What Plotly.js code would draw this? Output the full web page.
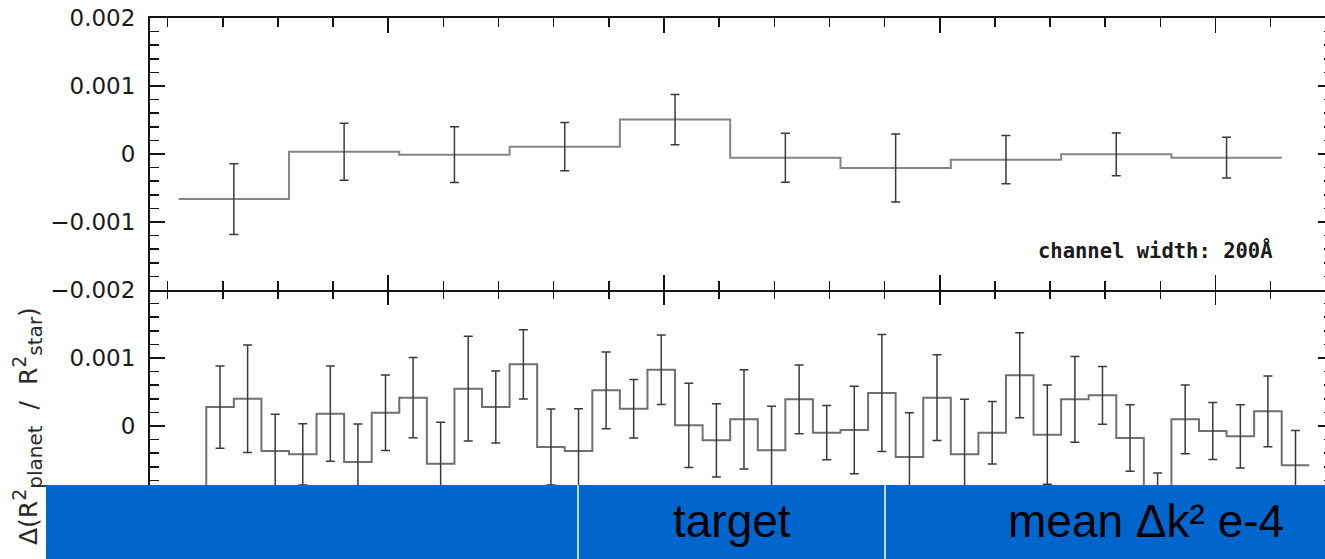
<!DOCTYPE html>
<html>
<head>
<meta charset="utf-8">
<script src="https://cdn.plot.ly/plotly-3.0.1.min.js"></script>
<style>
html,body{margin:0;padding:0;overflow:hidden;background:#fff;}
#chart{width:1340px;height:570px;}
</style>
</head>
<body>
<div id="chart"></div>
<script>
// ---------------- data ----------------
// upper panel: 200 Å channels (bin centres, Å)
var topCenters = [5720, 5920, 6120, 6320, 6520, 6720, 6920, 7120, 7320, 7520];
var topValues  = [-0.000663, 0.000034, -0.000010, 0.000108, 0.000506, -0.000054, -0.000206, -0.000084, -0.000005, -0.000054];
var topErrors  = [0.00052, 0.00042, 0.00041, 0.000355, 0.00037, 0.00036, 0.00050, 0.000355, 0.000315, 0.00030];

// lower panel: 50 Å channels (bin centres, Å)
var botCenters = [5645, 5695, 5745, 5795, 5845, 5895, 5945, 5995, 6045, 6095, 6145,
                  6195, 6245, 6295, 6345, 6395, 6445, 6495, 6545, 6595, 6645,
                  6695, 6745, 6795, 6845, 6895, 6945, 6995, 7045, 7095, 7145,
                  7195, 7245, 7295, 7345, 7395, 7445, 7495, 7545, 7595, 7645];
var botValues  = [-0.00145, 0.000279, 0.000402, -0.000368, -0.000417, 0.000181, -0.000529, 0.000196, 0.000417, -0.000554,
                  0.000549, 0.000279, 0.000907, -0.000309, -0.000368, 0.000525, 0.000255, 0.000828, 0.000010, -0.000211,
                  0.000098, -0.000358, 0.000392, -0.000098, -0.000059, 0.000485, -0.000456, 0.000417, -0.000417, -0.000098,
                  0.000745, -0.000127, 0.000392, 0.000451, -0.000176, -0.00125, 0.000098, -0.000074, -0.000152, 0.000216, -0.000578];
var botErrors  = [0.00050, 0.000605, 0.00079, 0.00054, 0.00045, 0.00070, 0.00056, 0.000555, 0.00059, 0.00061,
                  0.00077, 0.00053, 0.00051, 0.00056, 0.00062, 0.000565, 0.00043, 0.00051, 0.00062, 0.00054,
                  0.00073, 0.00065, 0.000505, 0.00040, 0.000645, 0.00086, 0.00065, 0.00063, 0.00081, 0.00046,
                  0.000625, 0.00073, 0.00063, 0.000425, 0.00049, 0.00056, 0.000505, 0.00042, 0.000465, 0.00052, 0.00051];

var topYTicks = [-0.002, -0.001, 0, 0.001, 0.002];
var botYTicks = [-0.001, 0, 0.001];
var noteText = 'channel width: 200\u00c5';
var yTitle = '\u0394(R<sup><span style="font-size:19px">2</span></sup><sub><span style="font-size:20px">planet</span></sub>\u00a0\u00a0/\u00a0\u00a0R<sup><span style="font-size:19px">2</span></sup><sub><span style="font-size:20px">star</span></sub>)';
var headerCells = ['', 'target', 'mean \u0394k\u00b2 e-4'];

// ---------------- helpers ----------------
function stepXY(centers, values) {
  var half = (centers[1] - centers[0]) / 2;
  var xs = centers.map(function (c) { return c - half; });
  xs.push(centers[centers.length - 1] + half);
  var ys = values.slice();
  ys.push(values[values.length - 1]);
  return {x: xs, y: ys};
}
var W = 1340, H = 570, ML = 150, MR = 7, MT = 18, MB = 8;
var PW = W - ML - MR, PH = H - MT - MB;
function px(x) { return (x - ML) / PW; }
function py(y) { return (H - MB - y) / PH; }

var stepColor = '#858585';
var errColor = '#3a3a3a';

var tStep = stepXY(topCenters, topValues);
var bStep = stepXY(botCenters, botValues);

var traces = [
  {x: tStep.x, y: tStep.y, xaxis: 'x2', yaxis: 'y2', mode: 'lines',
   line: {shape: 'hv', color: stepColor, width: 2}, hoverinfo: 'skip'},
  {x: topCenters, y: topValues, xaxis: 'x2', yaxis: 'y2', mode: 'markers',
   marker: {size: 1, color: 'rgba(0,0,0,0)'},
   error_y: {type: 'data', array: topErrors, visible: true, color: errColor, thickness: 1.5, width: 4.5}},
  {x: bStep.x, y: bStep.y, xaxis: 'x', yaxis: 'y', mode: 'lines',
   line: {shape: 'hv', color: '#707070', width: 2}, hoverinfo: 'skip'},
  {x: botCenters, y: botValues, xaxis: 'x', yaxis: 'y', mode: 'markers',
   marker: {size: 1, color: 'rgba(0,0,0,0)'},
   error_y: {type: 'data', array: botErrors, visible: true, color: errColor, thickness: 1.5, width: 4.5}}
];

var axCol = '#151515';
function xAx(extra) {
  var a = {range: [5568, 7713], showgrid: false, zeroline: false, showline: true,
    linecolor: axCol, linewidth: 2, mirror: 'allticks', ticks: 'inside', ticklen: 15,
    tickwidth: 1.8, tickcolor: axCol, tick0: 5500, dtick: 500, showticklabels: false,
    minor: {ticks: 'inside', ticklen: 9, tickwidth: 1.5, tickcolor: axCol, dtick: 100, showgrid: false}};
  for (var k in extra) a[k] = extra[k];
  return a;
}
function yAx(extra) {
  var a = {range: [-0.002, 0.002], showgrid: false, zeroline: false, showline: true,
    linecolor: axCol, linewidth: 2, mirror: 'allticks', ticks: 'inside', ticklen: 15,
    tickwidth: 1.8, tickcolor: axCol, tickmode: 'array', tickformat: '.3~f',
    ticklabelstandoff: 8,
    tickfont: {family: 'DejaVu Sans', size: 23, color: '#1a1a1a'},
    minor: {ticks: 'inside', ticklen: 9, tickwidth: 1.5, tickcolor: axCol,
            tickmode: 'linear', tick0: 0, dtick: 0.0002, showgrid: false}};
  for (var k in extra) a[k] = extra[k];
  return a;
}

var layout = {
  width: W, height: H,
  margin: {l: ML, r: MR, t: MT, b: MB, pad: 0},
  paper_bgcolor: '#fff', plot_bgcolor: '#fff',
  showlegend: false,
  xaxis: xAx({anchor: 'y', domain: [0, 1], showline: false}),
  xaxis2: xAx({anchor: 'y2', domain: [0, 1], matches: 'x'}),
  yaxis: yAx({anchor: 'x', domain: [0, 0.5], tickvals: botYTicks}),
  yaxis2: yAx({anchor: 'x2', domain: [0.5, 1], tickvals: topYTicks}),
  shapes: [
    {type: 'rect', xref: 'paper', yref: 'paper', x0: px(46), x1: px(W), y0: py(H), y1: py(485),
     fillcolor: '#0066cc', line: {width: 0}, layer: 'above'},
    {type: 'line', xref: 'paper', yref: 'paper', x0: px(578), x1: px(578), y0: py(H), y1: py(485),
     line: {color: '#ffffff', width: 1.5}, layer: 'above'},
    {type: 'line', xref: 'paper', yref: 'paper', x0: px(885), x1: px(885), y0: py(H), y1: py(485),
     line: {color: '#ffffff', width: 1.5}, layer: 'above'}
  ],
  annotations: [
    {text: noteText, xref: 'paper', yref: 'paper', x: px(1155), y: py(250), showarrow: false,
     xanchor: 'center', yanchor: 'middle',
     font: {family: 'DejaVu Sans Mono', size: 20.5, color: '#1a1a1a', weight: 'bold'}},
    {text: yTitle, xref: 'paper', yref: 'paper', x: px(27), y: py(426), showarrow: false,
     textangle: -90, xanchor: 'center', yanchor: 'middle',
     font: {family: 'DejaVu Sans', size: 25, color: '#2a2a2a'}},
    {text: headerCells[1], xref: 'paper', yref: 'paper', x: px(732), y: py(521), showarrow: false,
     xanchor: 'center', yanchor: 'middle',
     font: {family: 'Liberation Sans', size: 46, color: '#000'}},
    {text: headerCells[2], xref: 'paper', yref: 'paper', x: px(1146), y: py(521), showarrow: false,
     xanchor: 'center', yanchor: 'middle',
     font: {family: 'Liberation Sans', size: 46, color: '#000'}}
  ]
};

Plotly.newPlot('chart', traces, layout, {displayModeBar: false, staticPlot: true});
</script>
</body>
</html>
